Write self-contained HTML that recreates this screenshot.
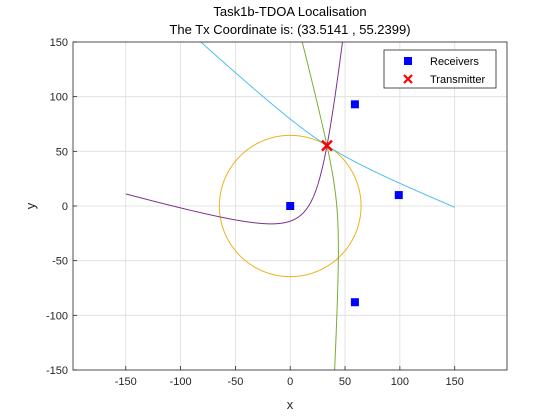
<!DOCTYPE html>
<html><head><meta charset="utf-8"><style>
body{margin:0;background:#fff;}
svg{display:block;font-family:"Liberation Sans",Arial,sans-serif;}
</style></head><body>
<svg id="chart" width="560" height="420">
<rect width="560" height="420" fill="#fff"/>
<rect x="73" y="42" width="434" height="328" fill="#fff"/>
<g id="grid"></g>
<g id="curves"></g>
<g id="marks"></g>
<rect x="73" y="42" width="434" height="328" fill="none" stroke="#262626" stroke-width="0.8"/>
<g id="ticks" font-size="11" fill="#262626"></g>
<text x="290" y="16" text-anchor="middle" font-size="13" fill="#000">Task1b-TDOA Localisation</text>
<text x="290" y="34" text-anchor="middle" font-size="13" fill="#000">The Tx Coordinate is: (33.5141 , 55.2399)</text>
<text x="290" y="409" text-anchor="middle" font-size="13" fill="#262626">x</text>
<text x="35" y="206" text-anchor="middle" font-size="13" fill="#262626" transform="rotate(-90 35 206)">y</text>
<g>
<rect x="384" y="50" width="112" height="38" fill="#fff" stroke="#262626" stroke-width="0.8"/>
<rect x="404" y="57" width="8" height="8" fill="#0000ff"/>
<text x="430" y="65" font-size="11" fill="#000">Receivers</text>
<path d="M404,75 L412,83 M412,75 L404,83" stroke="#ff0000" stroke-width="2.2"/>
<text x="430" y="83" font-size="11" fill="#000">Transmitter</text>
</g>
</svg>
<script>
const rxX=[0,59,99,59];
const rxY=[0,93,10,-88];
const txX=[33.5141];
const txY=[55.2399];
const xTicks=[-150,-100,-50,0,50,100,150];
const yTicks=[-150,-100,-50,0,50,100,150];
const pairs=[[0,1],[0,2],[0,3]];
const pairColors=['#4dbeee','#77ac30','#7e2f8e'];
const circleColor='#edb120';

const NS='http://www.w3.org/2000/svg';
const X0=73,X1=507,Y0=42,Y1=370;
const xmin=-198.1,xmax=197.7,ymin=-150,ymax=150;
const sx=v=>X0+(v-xmin)/(xmax-xmin)*(X1-X0);
const sy=v=>Y1-(v-ymin)/(ymax-ymin)*(Y1-Y0);
function mk(tag,attrs,parent){const e=document.createElementNS(NS,tag);for(const k in attrs)e.setAttribute(k,attrs[k]);parent.appendChild(e);return e;}
const grid=document.getElementById('grid'),ticks=document.getElementById('ticks'),curves=document.getElementById('curves'),marks=document.getElementById('marks');
xTicks.forEach(t=>{
 const l=mk('line',{x1:sx(t),x2:sx(t),y1:Y0,y2:Y1,stroke:'#dcdcdc','stroke-width':0.8},grid);
 
 
 mk('line',{x1:sx(t),x2:sx(t),y1:Y1,y2:Y1-4,stroke:'#262626','stroke-width':0.8},ticks);
 const tx=mk('text',{x:sx(t),y:Y1+15,'text-anchor':'middle'},ticks);tx.textContent=t;
 
 
});
yTicks.forEach(t=>{
 const l=mk('line',{x1:X0,x2:X1,y1:sy(t),y2:sy(t),stroke:'#dcdcdc','stroke-width':0.8},grid);
 
 
 mk('line',{x1:X0,x2:X0+4,y1:sy(t),y2:sy(t),stroke:'#262626','stroke-width':0.8},ticks);
 const tx=mk('text',{x:X0-5,y:sy(t)+4,'text-anchor':'end'},ticks);tx.textContent=t;
 
 
});
const T=[txX[0],txY[0]];
const dist=(a,b)=>Math.hypot(a[0]-b[0],a[1]-b[1]);
// circle around receiver 0 through Tx
const r0=dist(T,[rxX[0],rxY[0]]);
let cp='';
for(let i=0;i<=360;i++){const a=i*Math.PI/180;cp+=(i?'L':'M')+sx(rxX[0]+r0*Math.cos(a)).toFixed(2)+','+sy(rxY[0]+r0*Math.sin(a)).toFixed(2);}
const circ=mk('path',{d:cp,fill:'none',stroke:circleColor,'stroke-width':1},curves);


pairs.forEach((p,k)=>{
 const F1=[rxX[p[0]],rxY[p[0]]],F2=[rxX[p[1]],rxY[p[1]]];
 const d1=dist(T,F1),d2=dist(T,F2);
 const near=d1<d2?F1:F2;
 const a=Math.abs(d1-d2)/2,c=dist(F1,F2)/2,b=Math.sqrt(Math.max(c*c-a*a,1e-6));
 const m=[(F1[0]+F2[0])/2,(F1[1]+F2[1])/2];
 const u=[(near[0]-m[0])/c,(near[1]-m[1])/c],v=[-u[1],u[0]];
 let d='',pen=false;
 for(let t=-6;t<=6;t+=0.002){
  const px=m[0]+a*Math.cosh(t)*u[0]+b*Math.sinh(t)*v[0];
  const py=m[1]+a*Math.cosh(t)*u[1]+b*Math.sinh(t)*v[1];
  if(px<-150||px>150||py<-150||py>150){pen=false;continue;}
  d+=(pen?'L':'M')+sx(px).toFixed(2)+','+sy(py).toFixed(2);pen=true;
 }
 const h=mk('path',{d:d,fill:'none',stroke:pairColors[k],'stroke-width':1},curves);
 
 
});
rxX.forEach((x,i)=>{
 const r=mk('rect',{x:sx(x)-4,y:sy(rxY[i])-4,width:8,height:8,fill:'#0000ff'},marks);
 
 
});
const X=sx(txX[0]),Y=sy(txY[0]);
const tm=mk('path',{d:`M${X-5},${Y-5}L${X+5},${Y+5}M${X+5},${Y-5}L${X-5},${Y+5}`,stroke:'#ff0000','stroke-width':2.5},marks);


</script>
</body></html>
